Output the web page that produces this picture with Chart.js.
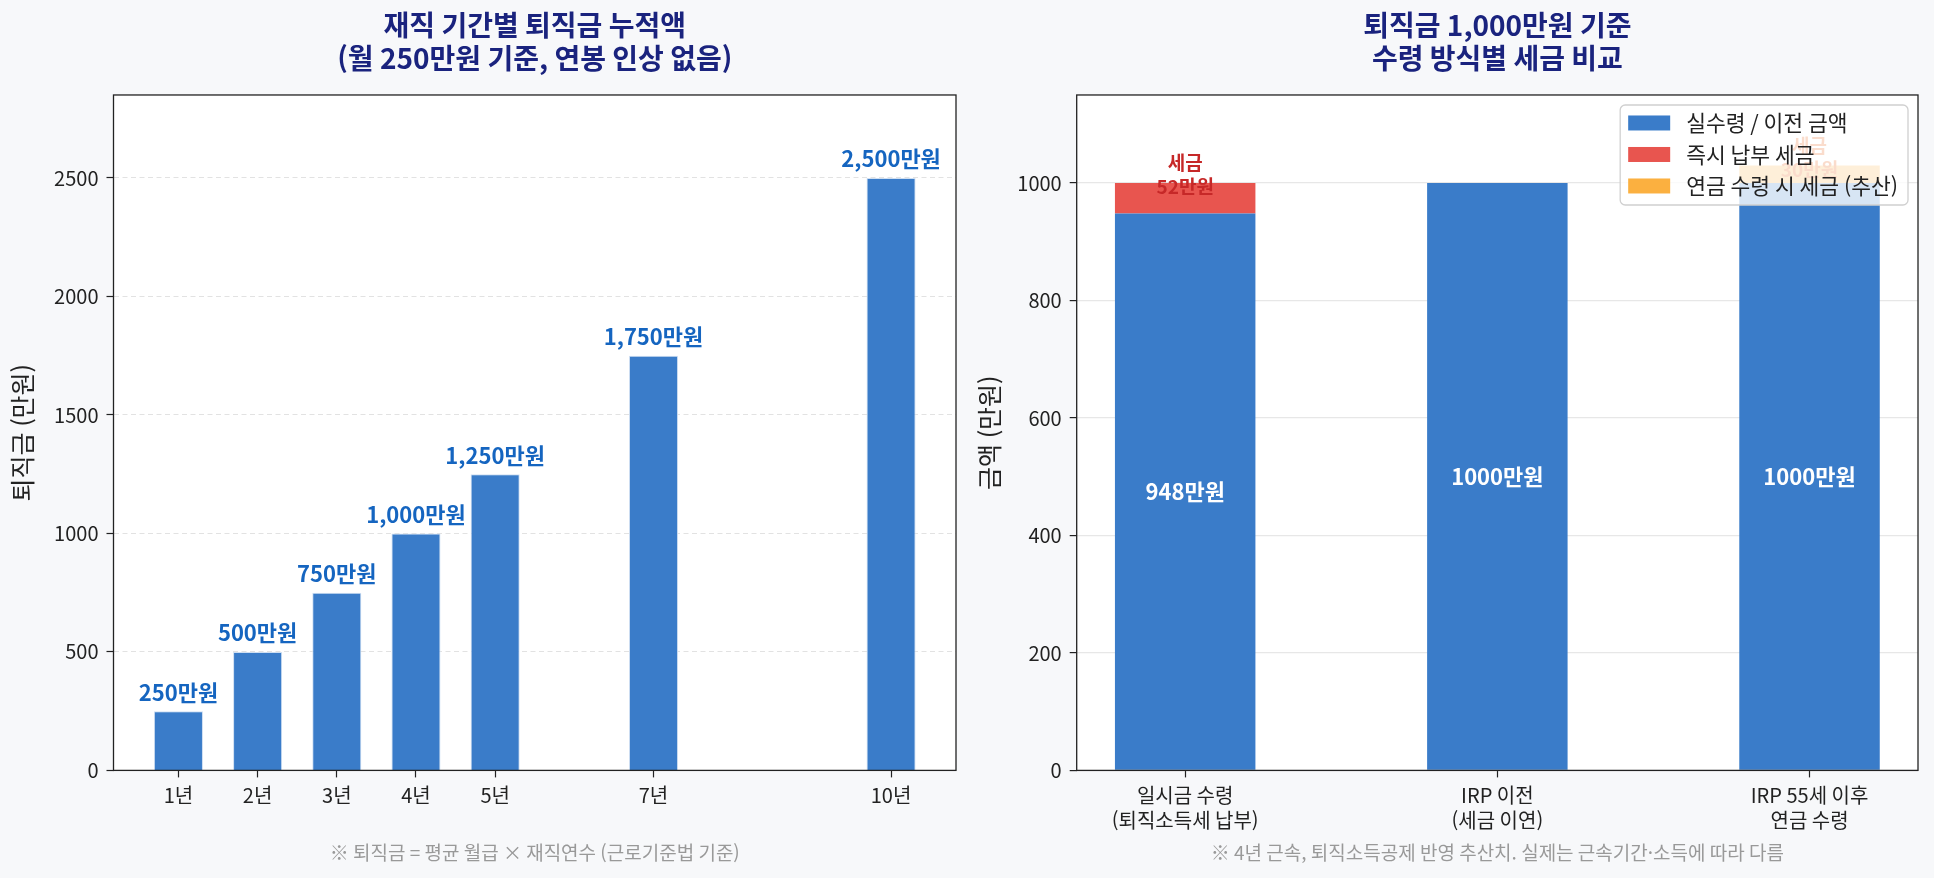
<!DOCTYPE html>
<html lang="ko">
<head>
<meta charset="utf-8">
<title>퇴직금 누적액 / 수령 방식별 세금 비교</title>
<script src="https://cdn.jsdelivr.net/npm/chart.js@4.4.0/dist/chart.umd.min.js"></script>
<style>
  html, body { margin: 0; padding: 0; background: #f7f8fa; overflow: hidden; }
  .panel { position: absolute; top: 0; }
  #left-panel { left: 0; }
  #right-panel { left: 967px; }
</style>
</head>
<body>
<div class="panel" id="left-panel"><canvas id="tenure-chart" width="967" height="878"></canvas></div>
<div class="panel" id="right-panel"><canvas id="method-chart" width="967" height="878"></canvas></div>
<script>
// ---- data: left panel (재직 기간별 퇴직금) ----
const tenureYears = [1, 2, 3, 4, 5, 7, 10];
const severancePay = [250, 500, 750, 1000, 1250, 1750, 2500];
const tenureYTicks = [0, 500, 1000, 1500, 2000, 2500];

// ---- data: right panel (수령 방식별 세금) ----
const methodLabels = [
  ['일시금 수령', '(퇴직소득세 납부)'],
  ['IRP 이전', '(세금 이연)'],
  ['IRP 55세 이후', '연금 수령']
];
const methodIndex = [0, 1, 2];
const netAmount = [948, 1000, 1000];
const immediateTax = [52, 0, 0];
const pensionTax = [0, 0, 30];
const seriesNames = ['실수령 / 이전 금액', '즉시 납부 세금', '연금 수령 시 세금 (추산)'];
const methodYTicks = [0, 200, 400, 600, 800, 1000];

const FONT = "'Noto Sans CJK KR', 'Noto Sans', sans-serif";
const BLUE = '#3a7cc9';
const RED = '#e8554f';
const ORANGE = '#fbb040';
const seriesColors = [BLUE, RED, ORANGE];
const seriesLabelColors = ['#ffffff', '#c62828', '#e65100'];

Chart.defaults.font.family = FONT;
Chart.defaults.color = '#222';

// white plot background + dark frame, like the spines of the original
const plotFrame = {
  id: 'plotFrame',
  beforeDraw(chart) {
    const { ctx, chartArea: a } = chart;
    ctx.save();
    ctx.fillStyle = '#ffffff';
    ctx.fillRect(a.left, a.top, a.width, a.height);
    ctx.restore();
  },
  afterDatasetsDraw(chart) {
    const { ctx, chartArea: a } = chart;
    ctx.save();
    ctx.strokeStyle = '#222';
    ctx.lineWidth = 1.3;
    ctx.strokeRect(a.left, a.top, a.width, a.height);
    ctx.restore();
  }
};

// value labels above the tenure bars
const tenureLabels = {
  id: 'tenureLabels',
  afterDatasetsDraw(chart) {
    const { ctx } = chart;
    const meta = chart.getDatasetMeta(0);
    ctx.save();
    ctx.font = `bold 22px ${FONT}`;
    ctx.fillStyle = '#1565c0';
    ctx.textAlign = 'center';
    ctx.textBaseline = 'middle';
    meta.data.forEach((bar, i) => {
      ctx.fillText(`${severancePay[i].toLocaleString('en-US')}만원`, bar.x, bar.y - 19);
    });
    ctx.restore();
  }
};

// labels inside / above the stacked segments
const segmentLabels = {
  id: 'segmentLabels',
  afterDatasetsDraw(chart) {
    const { ctx } = chart;
    ctx.save();
    ctx.textAlign = 'center';
    ctx.textBaseline = 'middle';
    chart.data.datasets.forEach((ds, d) => {
      const meta = chart.getDatasetMeta(d);
      meta.data.forEach((bar, i) => {
        const v = ds.data[i].y;
        if (!v) return;
        ctx.fillStyle = seriesLabelColors[d];
        if (d === 0) {
          ctx.font = `bold 22px ${FONT}`;
          ctx.fillText(`${v}만원`, bar.x, (bar.y + bar.base) / 2);
        } else {
          ctx.font = `bold 19px ${FONT}`;
          const cy = bar.y - 8;
          ctx.fillText('세금', bar.x, cy - 12);
          ctx.fillText(`${v}만원`, bar.x, cy + 12);
        }
      });
    });
    ctx.restore();
  }
};

// legend box in the upper right of the plot, drawn over the bars
const insideLegend = {
  id: 'insideLegend',
  afterDraw(chart) {
    const { ctx, chartArea: a } = chart;
    ctx.save();
    ctx.font = `21.5px ${FONT}`;
    const textW = Math.max(...seriesNames.map(n => ctx.measureText(n).width));
    const padL = 8, patchW = 42, patchH = 15, gap = 16, padR = 10, rowH = 31.5, padT = 18;
    const w = padL + patchW + gap + textW + padR;
    const h = padT * 2 + rowH * (seriesNames.length - 1) + 1;
    const x = a.right - 10 - w;
    const y = a.top + 10;
    ctx.beginPath();
    ctx.roundRect(x, y, w, h, 5);
    ctx.fillStyle = 'rgba(255,255,255,0.8)';
    ctx.fill();
    ctx.strokeStyle = '#d0d0d0';
    ctx.lineWidth = 1.3;
    ctx.stroke();
    ctx.textAlign = 'left';
    ctx.textBaseline = 'middle';
    seriesNames.forEach((name, i) => {
      const cy = y + padT + i * rowH;
      ctx.fillStyle = seriesColors[i];
      ctx.fillRect(x + padL, cy - patchH / 2, patchW, patchH);
      ctx.fillStyle = '#222';
      ctx.fillText(name, x + padL + patchW + gap, cy);
    });
    ctx.restore();
  }
};

const titleOpts = (text) => ({
  display: true,
  fullSize: false,
  text,
  color: '#1a237e',
  font: { size: 28, weight: 'bold', lineHeight: 1.18 },
  padding: { top: 8.5, bottom: 20.4 }
});

const noteOpts = (text) => ({
  display: true,
  position: 'bottom',
  fullSize: false,
  text,
  color: '#999999',
  font: { size: 19, weight: 'normal', lineHeight: 1.2 },
  padding: { top: 0, bottom: 13.6 }
});

new Chart(document.getElementById('tenure-chart'), {
  type: 'bar',
  data: {
    datasets: [{
      label: '퇴직금',
      data: tenureYears.map((yr, i) => ({ x: yr, y: severancePay[i] })),
      backgroundColor: BLUE,
      borderColor: '#cfdff2',
      borderWidth: 1,
      barPercentage: 0.62,
      categoryPercentage: 1
    }]
  },
  options: {
    responsive: false,
    animation: false,
    events: [],
    layout: { padding: { left: 0, right: 11, top: 0, bottom: 0 } },
    plugins: {
      legend: { display: false },
      tooltip: { enabled: false },
      title: titleOpts(['재직 기간별 퇴직금 누적액', '(월 250만원 기준, 연봉 인상 없음)']),
      subtitle: noteOpts('※ 퇴직금 = 평균 월급 × 재직연수 (근로기준법 기준)')
    },
    scales: {
      x: {
        type: 'linear',
        min: 0.18,
        max: 10.82,
        offset: false,
        grid: { display: true, offset: false, drawOnChartArea: false, drawTicks: true, tickLength: 7, tickColor: '#222', tickWidth: 1.2 },
        border: { display: false },
        ticks: { autoSkip: false, maxRotation: 0, padding: 6, color: '#222', font: { size: 20, lineHeight: 1.25 }, callback: (v) => `${v}년` },
        afterBuildTicks: (axis) => { axis.ticks = tenureYears.map(v => ({ value: v })); },
        afterFit: (axis) => { axis.height = 71.2; }
      },
      y: {
        min: 0,
        max: 2850,
        grid: { color: '#e2e2e2', lineWidth: 1, drawTicks: true, tickLength: 7, tickColor: '#222', tickWidth: 1.2, tickBorderDash: [] },
        border: { display: false, dash: [5, 3.5] },
        ticks: { padding: 8, color: '#222', font: { size: 20 }, callback: (v) => `${v}` },
        afterBuildTicks: (axis) => { axis.ticks = tenureYTicks.map(v => ({ value: v })); },
        afterFit: (axis) => { axis.width = 113.5; },
        title: { display: true, text: '퇴직금 (만원)', color: '#222', font: { size: 25, lineHeight: 1.2 }, padding: { top: 7, bottom: 0 } }
      }
    }
  },
  plugins: [plotFrame, tenureLabels]
});

const stackSeries = [netAmount, immediateTax, pensionTax];

new Chart(document.getElementById('method-chart'), {
  type: 'bar',
  data: {
    datasets: stackSeries.map((values, d) => ({
      label: seriesNames[d],
      data: methodIndex.map((m, i) => ({ x: m, y: values[i] })),
      backgroundColor: seriesColors[d],
      borderWidth: 0,
      barPercentage: 0.45,
      categoryPercentage: 1
    }))
  },
  options: {
    responsive: false,
    animation: false,
    events: [],
    layout: { padding: { left: 0, right: 16, top: 0, bottom: 0 } },
    plugins: {
      legend: { display: false },
      tooltip: { enabled: false },
      title: titleOpts(['퇴직금 1,000만원 기준', '수령 방식별 세금 비교']),
      subtitle: noteOpts('※ 4년 근속, 퇴직소득공제 반영 추산치. 실제는 근속기간·소득에 따라 다름')
    },
    scales: {
      x: {
        type: 'linear',
        stacked: true,
        min: -0.3475,
        max: 2.3475,
        offset: false,
        grid: { display: true, offset: false, drawOnChartArea: false, drawTicks: true, tickLength: 7, tickColor: '#222', tickWidth: 1.2 },
        border: { display: false },
        ticks: { autoSkip: false, maxRotation: 0, padding: 6, color: '#222', font: { size: 20, lineHeight: 1.25 }, callback: (v) => methodLabels[v] },
        afterBuildTicks: (axis) => { axis.ticks = methodIndex.map(v => ({ value: v })); },
        afterFit: (axis) => { axis.height = 71.2; }
      },
      y: {
        stacked: true,
        min: 0,
        max: 1150,
        z: 1,
        grid: { color: 'rgba(176,176,176,0.3)', lineWidth: 1.2, drawTicks: true, tickLength: 7, tickColor: '#222', tickWidth: 1.2 },
        border: { display: false },
        ticks: { padding: 8, color: '#222', font: { size: 20 }, callback: (v) => `${v}` },
        afterBuildTicks: (axis) => { axis.ticks = methodYTicks.map(v => ({ value: v })); },
        afterFit: (axis) => { axis.width = 109.7; },
        title: { display: true, text: '금액 (만원)', color: '#222', font: { size: 25, lineHeight: 1.2 }, padding: { top: 7, bottom: 0 } }
      }
    }
  },
  plugins: [plotFrame, segmentLabels, insideLegend]
});
</script>
</body>
</html>
